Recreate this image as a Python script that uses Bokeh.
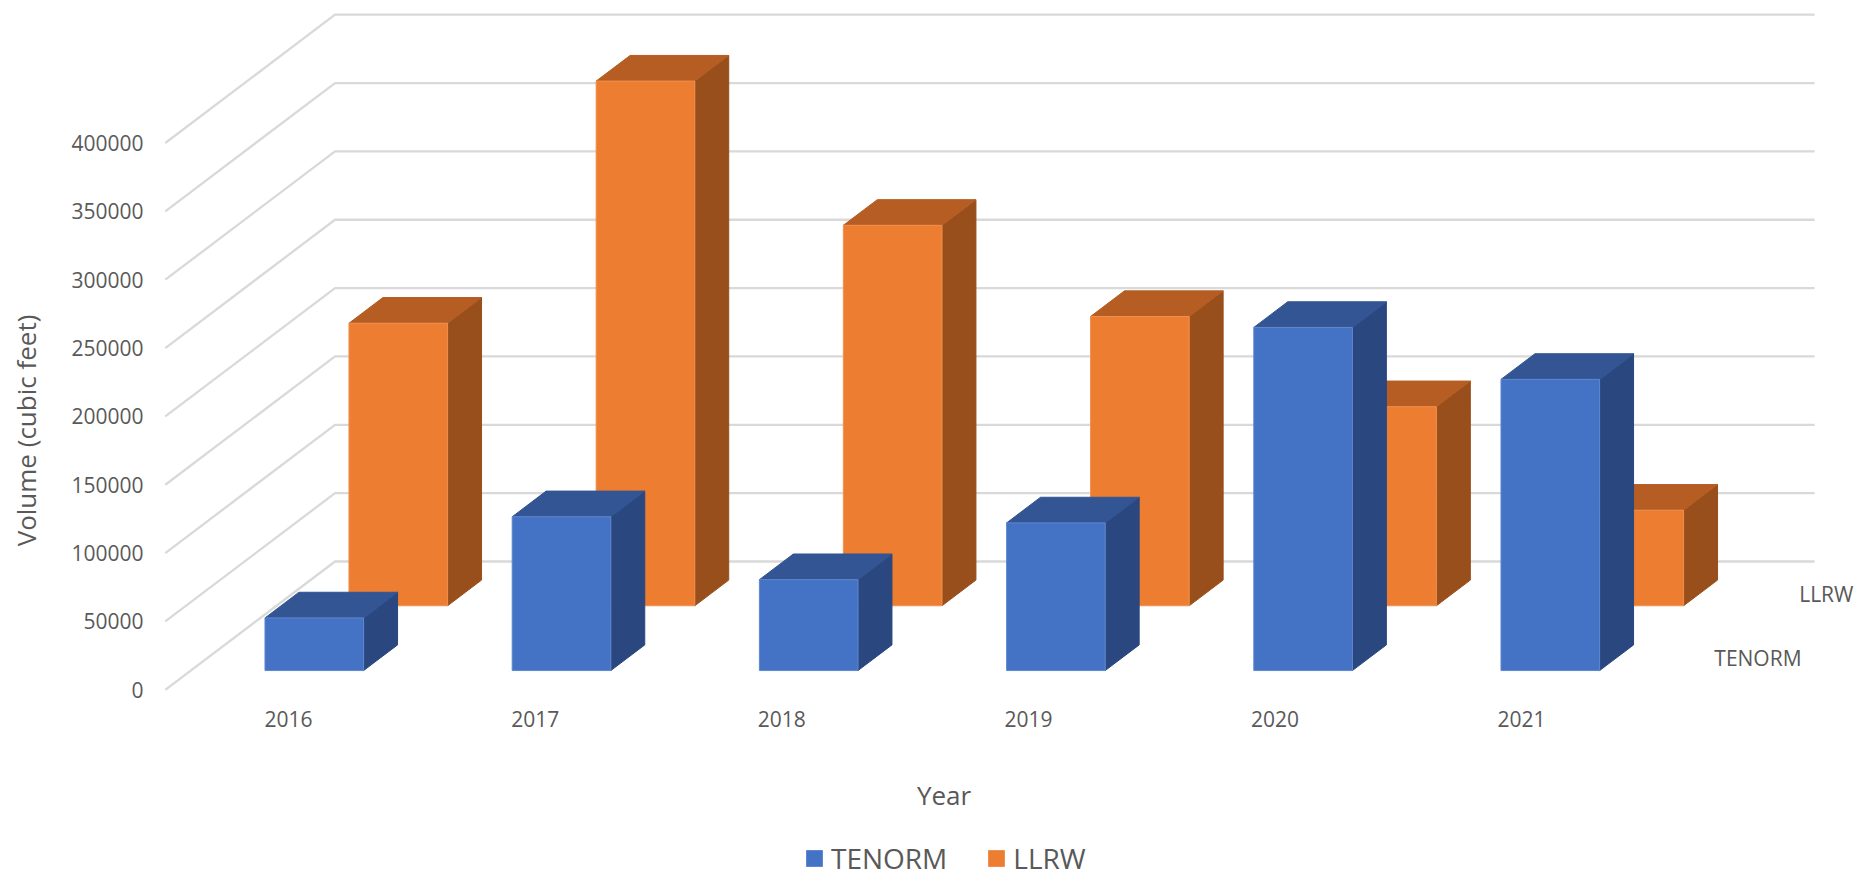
import math
from bokeh.plotting import figure
from bokeh.models import (Range1d, FixedTicker, Label, Legend, LegendItem)
from bokeh.core.properties import value
from bokeh.embed import file_html
from bokeh.resources import INLINE

years = ["2016", "2017", "2018", "2019", "2020", "2021"]
tenorm = [38500, 112500, 66500, 108000, 251000, 213000]
llrw = [206700, 383800, 278300, 211600, 145600, 69900]
y_ticks = [0, 50000, 100000, 150000, 200000, 250000, 300000, 350000, 400000]
series_names = ["TENORM", "LLRW"]

# oblique projection: how far one full unit of depth moves a point
PX_PER_CAT = 246.6
PX_PER_VAL = 68.35 / 50000
ORIGIN_X, ORIGIN_Y = 164.8, 689.3      # picture pixels of category 0 / value 0 at the front
DEPTH_X = 169.7 / PX_PER_CAT           # categories
DEPTH_Y = 128.3 / PX_PER_VAL           # value units
BAR_STEP = 247.2 / PX_PER_CAT          # bars sit slightly wider apart than the wall's divisions

W, H = 1856, 877
AXIS_PX = 152                          # picture x of the value axis

def proj(cat, val, d):
    return cat + d * DEPTH_X, val + d * DEPTH_Y

p = figure(width=W, height=H, output_backend="svg", toolbar_location=None,
           x_range=Range1d(-ORIGIN_X / PX_PER_CAT, (W - ORIGIN_X) / PX_PER_CAT),
           y_range=Range1d((ORIGIN_Y - H) / PX_PER_VAL, ORIGIN_Y / PX_PER_VAL),
           min_border_left=0, min_border_right=0, min_border_top=0,
           min_border_bottom=0, outline_line_color=None, background_fill_color="white")
p.grid.visible = False

TXT = "#595959"
FONT = "Open Sans"
# axes
ya = p.yaxis[0]
ya.fixed_location = (AXIS_PX - ORIGIN_X) / PX_PER_CAT
ya.ticker = FixedTicker(ticks=y_ticks)
ya.axis_line_color = None
ya.major_tick_line_color = None
ya.minor_tick_line_color = None
ya.major_tick_out = 0
ya.major_label_standoff = 9
ya.major_label_text_font = FONT
ya.major_label_text_font_size = "21px"
ya.major_label_text_color = TXT
ya.formatter.use_scientific = False

xa = p.xaxis[0]
xa.fixed_location = 0
xa.ticker = FixedTicker(ticks=[i + 0.5 for i in range(len(years))])
xa.major_label_overrides = {i + 0.5: y for i, y in enumerate(years)}
xa.axis_line_color = None
xa.major_tick_line_color = None
xa.minor_tick_line_color = None
xa.major_tick_out = 0
xa.major_label_standoff = 21
xa.major_label_text_font = FONT
xa.major_label_text_font_size = "21px"
xa.major_label_text_color = TXT

# gridlines: front-left diagonal, then along the back wall
gx, gy = [], []
for v in y_ticks:
    bx, by = proj(0, v, 1)
    ex, ey = proj(len(years), v, 1)
    gx.append([0, bx, ex])
    gy.append([v, by, ey])
p.multi_line(gx, gy, line_color="#D9D9D9", line_width=2.3)

def bar_faces(values, d0, a, dd=0.2, w=0.4):
    b = a + w
    front, side, top = ([], []), ([], []), ([], [])
    for i, h in enumerate(values):
        c = i * BAR_STEP
        pts = [proj(c + a, 0, d0), proj(c + b, 0, d0), proj(c + b, h, d0), proj(c + a, h, d0)]
        front[0].append([q[0] for q in pts]); front[1].append([q[1] for q in pts])
        pts = [proj(c + b, 0, d0), proj(c + b, 0, d0 + dd), proj(c + b, h, d0 + dd), proj(c + b, h, d0)]
        side[0].append([q[0] for q in pts]); side[1].append([q[1] for q in pts])
        pts = [proj(c + a, h, d0), proj(c + b, h, d0), proj(c + b, h, d0 + dd), proj(c + a, h, d0 + dd)]
        top[0].append([q[0] for q in pts]); top[1].append([q[1] for q in pts])
    return front, side, top

def draw(values, d0, a, c_front, c_top, c_side, c_edge):
    front, side, top = bar_faces(values, d0, a)
    p.patches(side[0], side[1], fill_color=c_side, line_color=c_side, line_width=1)
    p.patches(top[0], top[1], fill_color=c_top, line_color=c_top, line_width=1)
    return p.patches(front[0], front[1], fill_color=c_front, line_color=c_edge, line_width=1)

r_l = draw(llrw, 0.655, 0.294, "#ED7D31", "#B55D22", "#984F1C", "#F0904F")
r_t = draw(tenorm, 0.15, 0.301, "#4472C4", "#335593", "#2A4780", "#6088D0")

# depth axis labels
dx = [proj(len(years), 0, d)[0] for d in (0.25, 0.75)]
dy = [proj(len(years), 0, d)[1] for d in (0.25, 0.75)]
p.text(dx, dy, text=series_names, text_font=value(FONT), text_font_size="21px", text_color=TXT,
       text_baseline="middle", text_align="left", x_offset=27)

# titles (Label screen units are measured from the frame's lower left corner)
p.add_layout(Label(x=943.5, y=H - 794, x_units="screen", y_units="screen", text="Year",
                   text_font=FONT, text_font_size="26px", text_color=TXT,
                   text_align="center", text_baseline="middle"))
p.add_layout(Label(x=25, y=H - 430, x_units="screen", y_units="screen", angle=math.pi / 2,
                   text="Volume (cubic feet)", text_font=FONT, text_font_size="26px", text_color=TXT,
                   text_align="center", text_baseline="middle"))

legend = Legend(items=[LegendItem(label=series_names[0], renderers=[r_t], index=0),
                       LegendItem(label=series_names[1], renderers=[r_l], index=0)],
                orientation="horizontal", location=(804, 0),
                glyph_width=20, glyph_height=20, label_standoff=7, spacing=39, padding=0, margin=0,
                border_line_color=None, background_fill_alpha=0,
                label_text_font=FONT, label_text_font_size="28px", label_text_color=TXT)
p.add_layout(legend, "center")

open("out.html", "w").write(file_html(p, INLINE))
